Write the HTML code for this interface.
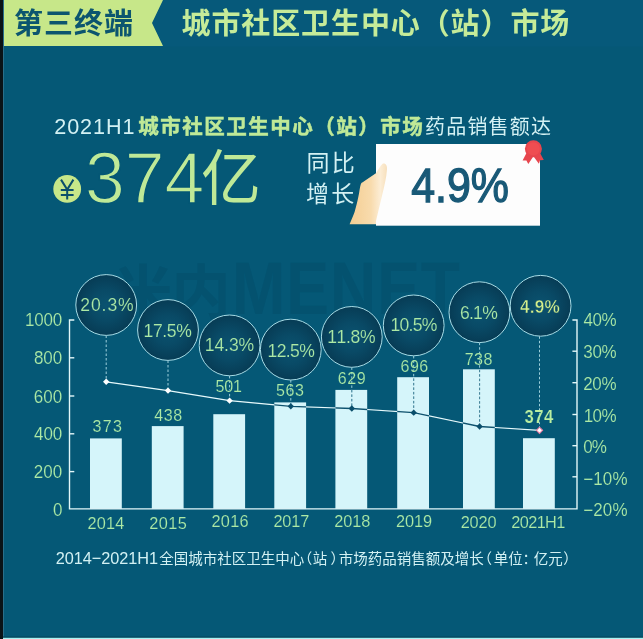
<!DOCTYPE html>
<html><head><meta charset="utf-8"><title>chart</title>
<style>
html,body{margin:0;padding:0;background:#055876;}
body{width:643px;height:639px;overflow:hidden;position:relative;font-family:"Liberation Sans","Noto Sans CJK SC",sans-serif;}
svg{position:absolute;left:0;top:0;display:block}
svg text{font-family:"Liberation Sans","Noto Sans CJK SC",sans-serif;font-kerning:none;}
</style></head><body>
<svg width="643" height="639" viewBox="0 0 643 639">
<rect x="0" y="0" width="643" height="639" fill="#055876"/>
<rect x="3" y="0" width="640" height="46.5" fill="#06597a"/>
<g opacity="0.999">
<polygon points="3,0 163,0 152,23 163,46 3,46" fill="#c8e88a"/>
<text x="14" y="34" font-size="29" font-weight="bold" letter-spacing="1" fill="#0d5670">第三终端</text>
<text x="181.5" y="34" font-size="29" font-weight="bold" letter-spacing="0.9" fill="#c6ec9a">城市社区卫生中心（站）市场</text>
<text x="54.3" y="134.2" font-size="21.6" letter-spacing="0.9" fill="#d4f2f4">2021H1</text>
<text x="138.3" y="134" font-size="20.5" font-weight="bold" letter-spacing="1.5" fill="#c0ea98" stroke="#c0ea98" stroke-width="0.5">城市社区卫生中心（站）市场</text>
<text x="425" y="134" font-size="20" letter-spacing="1.2" fill="#d4f2f4">药品销售额达</text>
<circle cx="67.2" cy="188.9" r="13.9" fill="#c8e88a"/>
<path d="M61 179.6 L67.2 189.6 L73.4 179.6 M67.2 189 V199.5 M60.8 190 H73.6 M60.8 195.1 H73.6" fill="none" stroke="#0b4f6c" stroke-width="2"/>
<text x="84.9" y="202.8" font-size="71.5" fill="#c0ea98" stroke="#055876" stroke-width="1.4">374</text>
<text x="201" y="200" font-size="60" fill="#c0ea98">亿</text>
<text x="306.5" y="171.2" font-size="23" letter-spacing="2.3" fill="#d4f2f4">同比</text>
<text x="306" y="202" font-size="23" letter-spacing="2.3" fill="#d4f2f4">增长</text>
<defs><linearGradient id="hg" gradientUnits="userSpaceOnUse" x1="350" y1="0" x2="388" y2="0"><stop offset="0" stop-color="#f5cf94"/><stop offset="0.55" stop-color="#f9dcae"/><stop offset="0.8" stop-color="#fdeed6"/><stop offset="1" stop-color="#f7dfba"/></linearGradient></defs>
<path d="M349.6 224.2 C352 218.5 353.6 215 354.6 212 C356.2 206.5 357.4 201.5 358.4 196.6 C359.4 192 359.8 187 360.8 184.2 C361.2 183 362 182.6 363 182 L377 172.6 L377 224.2 Z" fill="url(#hg)"/>
<rect x="376" y="144" width="164" height="81.7" fill="#fefefe"/>
<path d="M376 173.2 C378.2 170.3 380 166.2 382.6 163.8 C385.4 162.8 387.4 165.4 387 169.6 C386.4 178 384.4 186 382.4 194 C380.5 202 378.4 211 376 221 Z" fill="url(#hg)"/>
<text transform="translate(411.2 201.6) scale(0.905 1)" x="0" y="0" font-size="47.4" fill="#1a5a78" stroke="#1a5a78" stroke-width="1.3">4.9%</text>
<g fill="#e8474f"><path d="M527 152 L522.6 160.4 L526.4 160.6 L528.3 164 L534 155.5Z"/><path d="M539.5 152 L543.8 160 L540 160.2 L538.9 163.8 L532.8 155.5Z"/><circle cx="533.4" cy="148.8" r="8.5"/></g>
<circle cx="533.4" cy="148.8" r="6.5" fill="#f04e52"/>
<text x="113.5" y="314" font-size="59" font-weight="bold" letter-spacing="-1" fill="#055370">米内</text>
<text transform="translate(232 314) scale(1 1.16)" x="0" y="0" font-size="64" font-weight="bold" fill="#055370" letter-spacing="1">MENET</text>
<defs><radialGradient id="cg" cx="50%" cy="50%" r="50%"><stop offset="0" stop-color="#0c5471"/><stop offset="0.5" stop-color="#0a4b67"/><stop offset="1" stop-color="#083d56"/></radialGradient></defs>
<rect x="90.0" y="438.4" width="31.8" height="70.5" fill="#d6f6fb"/>
<rect x="151.8" y="426.1" width="31.8" height="82.8" fill="#d6f6fb"/>
<rect x="213.3" y="414.2" width="31.8" height="94.7" fill="#d6f6fb"/>
<rect x="274.3" y="402.4" width="31.8" height="106.5" fill="#d6f6fb"/>
<rect x="335.4" y="389.9" width="31.8" height="119.0" fill="#d6f6fb"/>
<rect x="397.2" y="377.2" width="31.8" height="131.7" fill="#d6f6fb"/>
<rect x="463.0" y="369.3" width="31.8" height="139.6" fill="#d6f6fb"/>
<rect x="523.0" y="438.2" width="31.8" height="70.7" fill="#d6f6fb"/>
<path d="M74.3 320.0 H69.5 V508.9 H577.0 V320.0 H572.4" fill="none" stroke="#e4f8fa" stroke-width="1.4"/>
<path d="M69.5 357.8 h4.8" stroke="#e4f8fa" stroke-width="1.4"/>
<path d="M69.5 396.0 h4.8" stroke="#e4f8fa" stroke-width="1.4"/>
<path d="M69.5 433.8 h4.8" stroke="#e4f8fa" stroke-width="1.4"/>
<path d="M69.5 471.6 h4.8" stroke="#e4f8fa" stroke-width="1.4"/>
<path d="M577.0 351.2 h-4.6" stroke="#e4f8fa" stroke-width="1.4"/>
<path d="M577.0 382.7 h-4.6" stroke="#e4f8fa" stroke-width="1.4"/>
<path d="M577.0 414.5 h-4.6" stroke="#e4f8fa" stroke-width="1.4"/>
<path d="M577.0 445.7 h-4.6" stroke="#e4f8fa" stroke-width="1.4"/>
<path d="M577.0 476.8 h-4.6" stroke="#e4f8fa" stroke-width="1.4"/>
<text transform="translate(25.10 325.70) scale(0.96 1)" font-size="17.73" letter-spacing="-0.25" fill="#aeeaa6" stroke="#055876" stroke-width="0.15">1000</text>
<text transform="translate(33.96 364.40) scale(0.96 1)" font-size="17.73" letter-spacing="-0.05" fill="#aeeaa6" stroke="#055876" stroke-width="0.15">800</text>
<text transform="translate(33.84 402.50) scale(0.96 1)" font-size="17.73" letter-spacing="0.01" fill="#aeeaa6" stroke="#055876" stroke-width="0.15">600</text>
<text transform="translate(34.01 440.40) scale(0.96 1)" font-size="17.73" letter-spacing="-0.08" fill="#aeeaa6" stroke="#055876" stroke-width="0.15">400</text>
<text transform="translate(33.84 478.30) scale(0.96 1)" font-size="17.73" letter-spacing="0.01" fill="#aeeaa6" stroke="#055876" stroke-width="0.15">200</text>
<text transform="translate(52.94 516.40) scale(0.96 1)" font-size="17.73" letter-spacing="0.00" fill="#aeeaa6" stroke="#055876" stroke-width="0.15">0</text>
<text transform="translate(583.61 326.40) scale(0.96 1)" font-size="17.73" letter-spacing="-0.56" fill="#aeeaa6" stroke="#055876" stroke-width="0.15">40%</text>
<text transform="translate(583.35 357.90) scale(0.96 1)" font-size="17.73" letter-spacing="-0.43" fill="#aeeaa6" stroke="#055876" stroke-width="0.15">30%</text>
<text transform="translate(583.14 389.60) scale(0.96 1)" font-size="17.73" letter-spacing="-0.32" fill="#aeeaa6" stroke="#055876" stroke-width="0.15">20%</text>
<text transform="translate(583.70 421.50) scale(0.96 1)" font-size="17.73" letter-spacing="-0.61" fill="#aeeaa6" stroke="#055876" stroke-width="0.15">10%</text>
<text transform="translate(583.34 453.30) scale(0.96 1)" font-size="17.73" letter-spacing="-0.97" fill="#aeeaa6" stroke="#055876" stroke-width="0.15">0%</text>
<text transform="translate(583.16 485.10) scale(0.96 1)" font-size="17.73" letter-spacing="0.15" fill="#aeeaa6" stroke="#055876" stroke-width="0.15">−10%</text>
<text transform="translate(583.16 516.40) scale(0.96 1)" font-size="17.73" letter-spacing="0.15" fill="#aeeaa6" stroke="#055876" stroke-width="0.15">−20%</text>
<path d="M106.2 335.5 V381.8" stroke="#9fd0dc" stroke-width="1" stroke-dasharray="2.5 2" fill="none"/>
<path d="M168 360.5 V390.6" stroke="#9fd0dc" stroke-width="1" stroke-dasharray="2.5 2" fill="none"/>
<path d="M229.6 375.9 V400.7" stroke="#9fd0dc" stroke-width="1" stroke-dasharray="2.5 2" fill="none"/>
<path d="M290.8 380.1 V406.3" stroke="#9fd0dc" stroke-width="1" stroke-dasharray="2.5 2" fill="none"/>
<path d="M351.8 367.4 V408.5" stroke="#9fd0dc" stroke-width="1" stroke-dasharray="2.5 2" fill="none"/>
<path d="M413.7 355.9 V412.6" stroke="#9fd0dc" stroke-width="1" stroke-dasharray="2.5 2" fill="none"/>
<path d="M479.6 342.7 V426.5" stroke="#9fd0dc" stroke-width="1" stroke-dasharray="2.5 2" fill="none"/>
<path d="M539.5 336.3 V430.3" stroke="#9fd0dc" stroke-width="1" stroke-dasharray="2.5 2" fill="none"/>
<clipPath id="bc"><rect x="90.0" y="438.4" width="31.8" height="70.5"/><rect x="151.8" y="426.1" width="31.8" height="82.8"/><rect x="213.3" y="414.2" width="31.8" height="94.7"/><rect x="274.3" y="402.4" width="31.8" height="106.5"/><rect x="335.4" y="389.9" width="31.8" height="119.0"/><rect x="397.2" y="377.2" width="31.8" height="131.7"/><rect x="463.0" y="369.3" width="31.8" height="139.6"/><rect x="523.0" y="438.2" width="31.8" height="70.7"/></clipPath>
<path d="M106.2 335.5 V381.8" stroke="#3f7f96" stroke-width="1" stroke-dasharray="2.5 2" fill="none" clip-path="url(#bc)"/>
<path d="M168 360.5 V390.6" stroke="#3f7f96" stroke-width="1" stroke-dasharray="2.5 2" fill="none" clip-path="url(#bc)"/>
<path d="M229.6 375.9 V400.7" stroke="#3f7f96" stroke-width="1" stroke-dasharray="2.5 2" fill="none" clip-path="url(#bc)"/>
<path d="M290.8 380.1 V406.3" stroke="#3f7f96" stroke-width="1" stroke-dasharray="2.5 2" fill="none" clip-path="url(#bc)"/>
<path d="M351.8 367.4 V408.5" stroke="#3f7f96" stroke-width="1" stroke-dasharray="2.5 2" fill="none" clip-path="url(#bc)"/>
<path d="M413.7 355.9 V412.6" stroke="#3f7f96" stroke-width="1" stroke-dasharray="2.5 2" fill="none" clip-path="url(#bc)"/>
<path d="M479.6 342.7 V426.5" stroke="#3f7f96" stroke-width="1" stroke-dasharray="2.5 2" fill="none" clip-path="url(#bc)"/>
<path d="M539.5 336.3 V430.3" stroke="#3f7f96" stroke-width="1" stroke-dasharray="2.5 2" fill="none" clip-path="url(#bc)"/>
<polyline points="106.2,381.8 168,390.6 229.6,400.7 290.8,406.3 351.8,408.5 413.7,412.6 479.6,426.5 539.5,430.3" fill="none" stroke="#e8fafc" stroke-width="1.2"/>
<polyline points="106.2,381.8 168,390.6 229.6,400.7 290.8,406.3 351.8,408.5 413.7,412.6 479.6,426.5 539.5,430.3" fill="none" stroke="#0f5470" stroke-width="1.3" clip-path="url(#bc)"/>
<path d="M103.0 381.755 L106.2 378.555 L109.4 381.755 L106.2 384.955Z" fill="#ffffff"/>
<path d="M164.8 390.575 L168 387.375 L171.2 390.575 L168 393.775Z" fill="#ffffff"/>
<path d="M226.4 400.655 L229.6 397.455 L232.79999999999998 400.655 L229.6 403.85499999999996Z" fill="#ffffff"/>
<path d="M287.6 406.325 L290.8 403.125 L294.0 406.325 L290.8 409.525Z" fill="#0b4f6c"/>
<path d="M348.6 408.53 L351.8 405.33 L355.0 408.53 L351.8 411.72999999999996Z" fill="#0b4f6c"/>
<path d="M410.5 412.625 L413.7 409.425 L416.9 412.625 L413.7 415.825Z" fill="#0b4f6c"/>
<path d="M476.40000000000003 426.485 L479.6 423.285 L482.8 426.485 L479.6 429.685Z" fill="#0b4f6c"/>
<path d="M536.4 430.265 L539.5 427.16499999999996 L542.6 430.265 L539.5 433.365Z" fill="#fff" stroke="#e87ea4" stroke-width="1.1"/>
<text transform="translate(92.49 432.00) scale(0.96 1)" font-size="16.72" letter-spacing="1.43" fill="#aeeaa6" stroke="#055876" stroke-width="0.15">373</text>
<text transform="translate(154.33 420.60) scale(0.96 1)" font-size="16.72" letter-spacing="0.57" fill="#aeeaa6" stroke="#055876" stroke-width="0.15">438</text>
<text transform="translate(215.56 391.90) scale(0.96 1)" font-size="16.72" letter-spacing="-0.23" fill="#aeeaa6" stroke="#055876" stroke-width="0.15">501</text>
<text transform="translate(276.06 396.30) scale(0.96 1)" font-size="16.72" letter-spacing="0.56" fill="#aeeaa6" stroke="#055876" stroke-width="0.15">563</text>
<text transform="translate(337.79 384.30) scale(0.96 1)" font-size="16.72" letter-spacing="0.52" fill="#aeeaa6" stroke="#055876" stroke-width="0.15">629</text>
<text transform="translate(400.59 372.40) scale(0.96 1)" font-size="16.72" letter-spacing="0.44" fill="#aeeaa6" stroke="#055876" stroke-width="0.15">696</text>
<text transform="translate(464.78 364.80) scale(0.96 1)" font-size="16.72" letter-spacing="0.44" fill="#aeeaa6" stroke="#055876" stroke-width="0.15">738</text>
<text transform="translate(524.42 423.40) scale(0.96 1)" font-size="17.44" letter-spacing="0.49" font-weight="bold" fill="#bcf0a2" stroke="#055876" stroke-width="0.2">374</text>
<circle cx="106.2" cy="305" r="30.4" fill="url(#cg)" stroke="#a8dce6" stroke-width="1"/>
<circle cx="168" cy="330" r="30.4" fill="url(#cg)" stroke="#a8dce6" stroke-width="1"/>
<circle cx="229.6" cy="345.4" r="30.4" fill="url(#cg)" stroke="#a8dce6" stroke-width="1"/>
<circle cx="290.8" cy="349.6" r="30.4" fill="url(#cg)" stroke="#a8dce6" stroke-width="1"/>
<circle cx="351.8" cy="336.9" r="30.4" fill="url(#cg)" stroke="#a8dce6" stroke-width="1"/>
<circle cx="413.7" cy="325.4" r="30.4" fill="url(#cg)" stroke="#a8dce6" stroke-width="1"/>
<circle cx="479.4" cy="312.2" r="30.4" fill="url(#cg)" stroke="#a8dce6" stroke-width="1"/>
<circle cx="540.6" cy="305.8" r="30.4" fill="url(#cg)" stroke="#a8dce6" stroke-width="1"/>
<text transform="translate(80.22 311.30) scale(0.96 1)" font-size="18.31" letter-spacing="0.95" fill="#aeeaa6" stroke="#0a4b67" stroke-width="0.15">20.3%</text>
<text transform="translate(143.46 336.50) scale(0.96 1)" font-size="18.31" letter-spacing="-0.36" fill="#aeeaa6" stroke="#0a4b67" stroke-width="0.15">17.5%</text>
<text transform="translate(204.76 350.90) scale(0.96 1)" font-size="18.31" letter-spacing="-0.10" fill="#aeeaa6" stroke="#0a4b67" stroke-width="0.15">14.3%</text>
<text transform="translate(267.46 356.80) scale(0.96 1)" font-size="18.31" letter-spacing="-0.62" fill="#aeeaa6" stroke="#0a4b67" stroke-width="0.15">12.5%</text>
<text transform="translate(327.16 343.40) scale(0.96 1)" font-size="18.31" letter-spacing="-0.36" fill="#aeeaa6" stroke="#0a4b67" stroke-width="0.15">11.8%</text>
<text transform="translate(390.46 331.40) scale(0.96 1)" font-size="18.31" letter-spacing="-0.73" fill="#aeeaa6" stroke="#0a4b67" stroke-width="0.15">10.5%</text>
<text transform="translate(459.91 318.90) scale(0.96 1)" font-size="18.31" letter-spacing="-0.75" fill="#aeeaa6" stroke="#0a4b67" stroke-width="0.15">6.1%</text>
<text transform="translate(519.94 313.10) scale(0.96 1)" font-size="17.88" letter-spacing="0.21" font-weight="bold" fill="#d6f08c" stroke="#0b4d69" stroke-width="0.45">4.9%</text>
<text transform="translate(87.38 528.70) scale(0.96 1)" font-size="17.01" letter-spacing="0.20" fill="#aeeaa6" stroke="#055876" stroke-width="0.15">2014</text>
<text transform="translate(149.28 529.00) scale(0.96 1)" font-size="17.01" letter-spacing="0.41" fill="#aeeaa6" stroke="#055876" stroke-width="0.15">2015</text>
<text transform="translate(211.48 527.30) scale(0.96 1)" font-size="17.01" letter-spacing="0.28" fill="#aeeaa6" stroke="#055876" stroke-width="0.15">2016</text>
<text transform="translate(273.38 527.30) scale(0.96 1)" font-size="17.01" letter-spacing="-0.10" fill="#aeeaa6" stroke="#055876" stroke-width="0.15">2017</text>
<text transform="translate(334.18 527.30) scale(0.96 1)" font-size="17.01" letter-spacing="-0.03" fill="#aeeaa6" stroke="#055876" stroke-width="0.15">2018</text>
<text transform="translate(395.98 527.30) scale(0.96 1)" font-size="17.01" letter-spacing="-0.11" fill="#aeeaa6" stroke="#055876" stroke-width="0.15">2019</text>
<text transform="translate(460.68 527.50) scale(0.96 1)" font-size="17.01" letter-spacing="-0.16" fill="#aeeaa6" stroke="#055876" stroke-width="0.15">2020</text>
<text transform="translate(511.28 527.50) scale(0.96 1)" font-size="17.01" letter-spacing="-0.64" fill="#aeeaa6" stroke="#055876" stroke-width="0.15">2021H1</text>
<text transform="translate(55.68 564.10) scale(0.96 1)" font-size="17.01" letter-spacing="-0.06" fill="#d4f2f4">2014−2021H1</text>
<text x="159.3" y="564.1" font-size="14.5" fill="#d4f2f4">全国城市社区卫生中心</text>
<text x="297.8" y="564.1" font-size="14.5" fill="#d4f2f4">（</text>
<text x="312.8" y="564.1" font-size="14.5" fill="#d4f2f4">站</text>
<text x="330.4" y="564.1" font-size="14.5" fill="#d4f2f4">）</text>
<text x="338.7" y="564.1" font-size="14.5" fill="#d4f2f4">市场药品销售额及增长</text>
<text x="477.6" y="564.1" font-size="14.5" fill="#d4f2f4">（</text>
<text x="493.7" y="564.1" font-size="14.5" fill="#d4f2f4">单位</text>
<text x="522.5" y="564.1" font-size="14.5" fill="#d4f2f4">：</text>
<text x="533.8" y="564.1" font-size="14.5" fill="#d4f2f4">亿元</text>
<text x="563.3" y="564.1" font-size="14.5" fill="#d4f2f4">）</text>
</g>
<rect x="0" y="0" width="3" height="639" fill="#0a1317"/>
<rect x="3" y="0" width="1" height="639" fill="#2a6f8a"/>
<rect x="3" y="636.4" width="640" height="1.6" fill="#05485e"/>
<rect x="3" y="637.8" width="640" height="1.2" fill="#a8f4f4"/>
</svg>
</body></html>
